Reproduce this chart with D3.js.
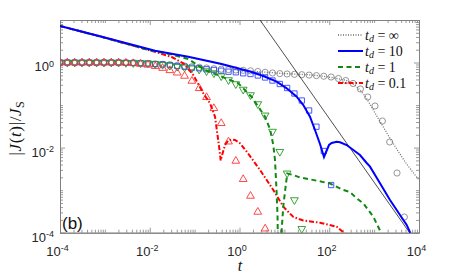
<!DOCTYPE html>
<html><head><meta charset="utf-8">
<script src="https://cdn.jsdelivr.net/npm/d3@7"></script>
<style>body{margin:0;background:#fff;} svg{display:block;}</style>
</head><body>
<svg id="c" width="463" height="278"></svg>
<script>
// ---------------- data ----------------
const xTickValues = [1e-4, 1e-2, 1, 1e2, 1e4];
const yTickValues = [1e-4, 1e-2, 1];

// marker abscissae (log10 t)
const markerLogT = [-4.000,-3.837,-3.673,-3.510,-3.347,-3.184,-3.020,-2.857,-2.694,-2.531,
  -2.367,-2.204,-2.041,-1.878,-1.714,-1.551,-1.388,-1.224,-1.061,-0.898,
  -0.735,-0.571,-0.408,-0.245,-0.082,0.082,0.245,0.408,0.571,0.735,
  0.898,1.061,1.224,1.388,1.551,1.714,1.878,2.041,2.204,2.367,
  2.531,2.694,2.857,3.020,3.184,3.347,3.510,3.673,3.837,4.000];

const circleJ = [1,1,1,1,1,1,1,1,1,0.99,0.98,0.97,0.95,0.924,0.909,0.885,0.852,0.829,0.798,0.773,
  0.744,0.717,0.697,0.682,0.668,0.657,0.639,0.616,0.590,0.568,0.550,0.538,0.529,0.518,0.507,0.493,
  0.477,0.457,0.421,0.378,0.322,0.239,0.155,0.0951,0.0422,0.01355,0.00253,0.000234,null,null];
const squareJ = [1,1,1,1,1,1,1,1,1,0.99,0.98,0.97,0.95,0.924,0.909,0.875,0.829,0.798,0.756,0.732,
  0.694,0.668,0.643,0.609,0.590,0.559,0.538,0.496,0.445,0.378,0.313,0.252,0.187,0.128,0.0746,0.0310,
  0.00833,0.00132,null,null,null,null,null,null,null,null,null,null,null,null];
const downTriJ = [1,1,1,1,1,1,1,1,1,0.99,0.98,0.97,0.96,0.93,0.89,0.85,0.80,0.77,0.735,0.69,
  0.63,0.565,0.48,0.389,0.313,0.2324,0.1726,0.106,0.0575,0.0239,0.00802,0.00249,0.000587,0.000124,
  null,null,null,null,null,null,null,null,null,null,null,null,null,null,null,null];
const upTriJ = [1,1,1,1,1,1,1,1,1,0.98,0.955,0.92,0.88,0.82,0.74,0.655,0.575,0.483,0.368,0.248,
  0.1524,0.084,0.0373,0.01377,0.00485,0.0018,0.000729,0.000307,0.000124,
  null,null,null,null,null,null,null,null,null,null,null,null,null,null,null,null,null,null,null,null,null,null];

// curves
const grayT = [1e-4, 0.0131, 0.401, 1.197, 1.714, 9.46, 52.5, 146.6, 289.7, 409, 574, 1140, 2466, 5321, 1e4];
const grayJ = [7.23, 1.898, 0.899, 0.633, 0.626, 0.5526, 0.496, 0.4215, 0.3487, 0.266, 0.1822, 0.056, 0.0143, 0.00412, 0.001733];

const blueT = [1e-4, 7.78e-4, 0.0131, 0.0723, 0.401, 1.714, 3.39, 6.75, 11.27, 18.8, 26.4, 37.2, 48.1, 62.2, 76.4,
  98.7, 113.4, 146.6, 173.7, 244.9, 343.6, 484.2, 683, 809.6, 1352, 2259, 3775, 5321, 7000];
const blueJ = [7.23, 4.14, 1.898, 1.372, 0.924, 0.616, 0.483, 0.3544, 0.248, 0.1574, 0.1004, 0.0533, 0.02596, 0.01216, 0.00602,
  0.01152, 0.01284, 0.01377, 0.01334, 0.01152, 0.00879, 0.00671, 0.00435, 0.00356, 0.00145, 0.000587, 0.000261, 0.000152, 0.00008];

const greenT = [1e-4, 7.78e-4, 0.01014, 0.02825, 0.0723, 0.170, 0.401, 0.940, 1.870, 2.624, 3.70, 4.786, 5.66, 6.18, 6.68,
  7.03, 7.91, 8.71, 9.46, 10.87, 11.62, 15.8, 22.3, 37.2, 104, 205.6, 289.7, 409, 574, 959, 1680];
const greenJ = [7.23, 4.10, 1.93, 1.588, 1.211, 0.668, 0.465, 0.325, 0.155, 0.0916, 0.0533, 0.0274, 0.01152, 0.00512, 0.00101,
  0.00026, 1e-7, 0.000119, 0.000419, 0.00145, 0.00246, 0.00227, 0.00198, 0.0018, 0.001434, 0.00101, 0.000905, 0.000644, 0.000491, 0.000238, 0.00007];

const redT = [1e-4, 7.78e-4, 0.01014, 0.0169, 0.0308, 0.056, 0.0933, 0.156, 0.2203, 0.2844, 0.3197, 0.3548, 0.381, 0.4285,
  0.4753, 0.5623, 0.681, 0.794, 1.026, 1.469, 2.864, 5.66, 9.46, 15.8, 26.4, 62.2, 146.6, 316];
const redJ = [7.23, 4.14, 1.93, 1.649, 1.35, 0.960, 0.5095, 0.1891, 0.1101, 0.0533, 0.02171, 0.00964, 0.00498, 0.00789,
  0.01152, 0.0147, 0.01552, 0.0151, 0.01264, 0.00789, 0.00298, 0.00101, 0.000409, 0.000234, 0.0001935, 0.0001718, 0.0001383, 0.00007];

// reference power law (thin black)
const refT = [1, 1e4];
const refJ = [48.5, 4.85e-5];

const legendLabels = ["\u221E", "10", "1", "0.1"];

// ---------------- drawing ----------------
const W = 463, H = 278;
const m = {l: 60, r: 419, t: 20, b: 232.7};
const x = d3.scaleLog().domain([1e-4, 1e4]).range([m.l, m.r]);
const y = d3.scaleLog().domain([1e-4, 10]).range([m.b, m.t]);
const svg = d3.select('#c');
svg.append('rect').attr('width', W).attr('height', H).attr('fill', '#fff');
svg.append('defs').append('clipPath').attr('id', 'clip')
  .append('rect').attr('x', m.l).attr('y', m.t).attr('width', m.r - m.l).attr('height', m.b - m.t);

const AX = '#808080';
const sansF = "'Liberation Sans', Arial, sans-serif";
const serifF = "'Liberation Serif', 'Times New Roman', serif";

function minorOf(scale, majors) {
  return scale.ticks().filter(v => !majors.some(mj => Math.abs(Math.log10(v) - Math.log10(mj)) < 1e-6));
}
function styleAxis(g) {
  g.select('.domain').attr('stroke', AX).attr('stroke-width', 1);
  g.selectAll('.tick line').attr('stroke', AX).attr('stroke-width', 0.8);
}
function supLabels(g) {
  g.selectAll('.tick text').each(function(d) {
    const e = Math.round(Math.log10(d));
    const t = d3.select(this);
    t.text(null);
    t.append('tspan').text('10');
    t.append('tspan').attr('dy', '-0.5em').attr('font-size', '9px').text(String(e));
  });
  g.selectAll('.tick text').attr('fill', '#262626').attr('font-family', sansF).attr('font-size', '13px');
}

// bottom
const gB = svg.append('g').attr('transform', `translate(0,${m.b})`)
  .call(d3.axisBottom(x).tickValues(xTickValues).tickSizeInner(-5).tickSizeOuter(0).tickPadding(14));
supLabels(gB); gB.selectAll('.tick text').attr('x', -3);
styleAxis(gB);
const gBm = svg.append('g').attr('transform', `translate(0,${m.b})`)
  .call(d3.axisBottom(x).tickValues(minorOf(x, xTickValues)).tickSizeInner(-3).tickSizeOuter(0).tickFormat(''));
styleAxis(gBm);
// top
const gT = svg.append('g').attr('transform', `translate(0,${m.t})`)
  .call(d3.axisTop(x).tickValues(xTickValues).tickSizeInner(-5).tickSizeOuter(0).tickFormat(''));
styleAxis(gT);
const gTm = svg.append('g').attr('transform', `translate(0,${m.t})`)
  .call(d3.axisTop(x).tickValues(minorOf(x, xTickValues)).tickSizeInner(-3).tickSizeOuter(0).tickFormat(''));
styleAxis(gTm);
// left
const gL = svg.append('g').attr('transform', `translate(${m.l},0)`)
  .call(d3.axisLeft(y).tickValues(yTickValues).tickSizeInner(-5).tickSizeOuter(0).tickPadding(6));
supLabels(gL); gL.selectAll('.tick text').attr('dy', '0.65em');
styleAxis(gL);
const gLm = svg.append('g').attr('transform', `translate(${m.l},0)`)
  .call(d3.axisLeft(y).tickValues(minorOf(y, yTickValues)).tickSizeInner(-3).tickSizeOuter(0).tickFormat(''));
styleAxis(gLm);
// right
const gR = svg.append('g').attr('transform', `translate(${m.r},0)`)
  .call(d3.axisRight(y).tickValues(yTickValues).tickSizeInner(-5).tickSizeOuter(0).tickFormat(''));
styleAxis(gR);
const gRm = svg.append('g').attr('transform', `translate(${m.r},0)`)
  .call(d3.axisRight(y).tickValues(minorOf(y, yTickValues)).tickSizeInner(-3).tickSizeOuter(0).tickFormat(''));
styleAxis(gRm);

const plot = svg.append('g').attr('clip-path', 'url(#clip)');

// markers
const markerSeries = [
  {vals: circleJ, sym: d3.symbolCircle, size: 30, color: '#8a8a8a', rot: 0},
  {vals: squareJ, sym: d3.symbolSquare, size: 28, color: '#3344ff', rot: 0},
  {vals: downTriJ, sym: d3.symbolTriangle, size: 26, color: '#229922', rot: 180},
  {vals: upTriJ, sym: d3.symbolTriangle, size: 26, color: '#ff3333', rot: 0},
];
markerSeries.forEach(s => {
  const pts = markerLogT.map((lt, i) => ({t: Math.pow(10, lt), J: s.vals[i]})).filter(d => d.J != null);
  plot.append('g').selectAll('path').data(pts).join('path')
    .attr('d', d3.symbol().type(s.sym).size(s.size))
    .attr('transform', d => `translate(${x(d.t)},${y(d.J)}) rotate(${s.rot})`)
    .attr('fill', 'none').attr('stroke', s.color).attr('stroke-width', 0.9);
});

// lines
const line = d3.line().x(d => x(d.t)).y(d => y(d.J));
const zipTJ = (T, J) => T.map((t, i) => ({t, J: J[i]}));
const lineSeries = [
  {T: refT, J: refJ, color: '#222', w: 0.8, dash: null, curve: d3.curveLinear},
  {T: grayT, J: grayJ, color: '#6e6e6e', w: 1.3, dash: '1,1.5', curve: d3.curveMonotoneX},
  {T: redT, J: redJ, color: '#ff0000', w: 2, dash: '5,2,1.5,2', curve: d3.curveLinear},
  {T: greenT, J: greenJ, color: '#118811', w: 2, dash: '5,3.5', curve: d3.curveLinear},
  {T: blueT, J: blueJ, color: '#0000ff', w: 2, dash: null, curve: d3.curveLinear},
];
lineSeries.forEach(s => {
  plot.append('path').datum(zipTJ(s.T, s.J))
    .attr('d', line.curve(s.curve))
    .attr('fill', 'none').attr('stroke', s.color).attr('stroke-width', s.w)
    .attr('stroke-dasharray', s.dash);
});

// legend
const legStyles = [
  {color: '#6e6e6e', w: 1.3, dash: '1,1.5'},
  {color: '#0000ff', w: 2, dash: null},
  {color: '#118811', w: 2, dash: '5,3.5'},
  {color: '#ff0000', w: 2, dash: '5,2,1.5,2'},
];
const leg = svg.append('g');
legendLabels.forEach((lab, i) => {
  const yy = 35 + i * 16;
  leg.append('line').attr('x1', 338).attr('x2', 363).attr('y1', yy).attr('y2', yy)
    .attr('stroke', legStyles[i].color).attr('stroke-width', legStyles[i].w).attr('stroke-dasharray', legStyles[i].dash);
  const t = leg.append('text').attr('x', 365).attr('y', yy + 4.5)
    .attr('font-family', serifF).attr('font-size', '14px').attr('fill', '#111');
  t.append('tspan').attr('font-style', 'italic').text('t');
  t.append('tspan').attr('font-style', 'italic').attr('font-size', '10px').attr('dy', 2).text('d');
  t.append('tspan').attr('dy', -2).text(' = ' + lab);
});

// axis titles
svg.append('text').attr('x', 240).attr('y', 271).attr('text-anchor', 'middle')
  .attr('font-family', serifF).attr('font-size', '16px').attr('font-style', 'italic').attr('fill', '#111').text('t');
const yl = svg.append('text').attr('transform', 'translate(21,128) rotate(-90)').attr('text-anchor', 'middle')
  .attr('font-family', serifF).attr('font-size', '17px').attr('letter-spacing', '0.6px').attr('fill', '#111');
yl.append('tspan').text('|');
yl.append('tspan').attr('font-style', 'italic').text('J');
yl.append('tspan').text('(');
yl.append('tspan').attr('font-style', 'italic').text('t');
yl.append('tspan').text(')|/');
yl.append('tspan').attr('font-style', 'italic').text('J');
yl.append('tspan').attr('font-size', '12px').attr('dy', 3).text('S');

// panel label
svg.append('text').attr('x', 62).attr('y', 229).attr('font-family', sansF).attr('font-size', '17px')
  .attr('fill', '#111').text('(b)');
</script>
</body></html>
